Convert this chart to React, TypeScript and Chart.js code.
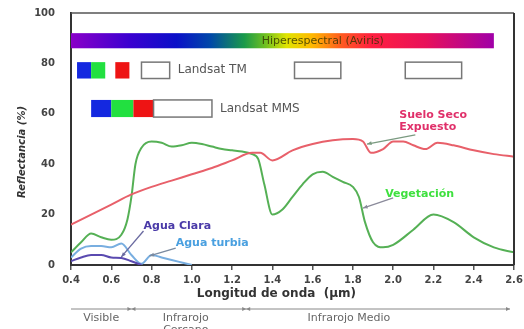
import React, { useEffect, useRef } from "react";
import { Chart, registerables } from "chart.js";
Chart.register(...registerables);

// ---- data ----
const xTicks = [0.4, 0.6, 0.8, 1.0, 1.2, 1.4, 1.6, 1.8, 2.0, 2.2, 2.4, 2.6];
const yTicks = [0, 20, 40, 60, 80, 100];

const sueloX = [0.4, 0.5, 0.6, 0.7, 0.8, 0.9, 1.0, 1.1, 1.2, 1.3, 1.34, 1.4, 1.5, 1.6, 1.7, 1.8, 1.85, 1.89, 1.95, 2.0, 2.05, 2.1, 2.16, 2.22, 2.3, 2.4, 2.5, 2.6];
const sueloY = [16, 20, 24, 28, 31, 33.5, 36, 38.5, 41.5, 44.5, 44.5, 41.5, 45.5, 48, 49.5, 50, 49, 44.5, 46, 49, 49, 47.5, 46, 48.5, 47.5, 45.5, 44, 43];

const vegX = [0.4, 0.45, 0.5, 0.55, 0.6, 0.65, 0.68, 0.7, 0.72, 0.75, 0.8, 0.85, 0.9, 0.95, 1.0, 1.05, 1.1, 1.15, 1.2, 1.25, 1.3, 1.33, 1.36, 1.4, 1.45, 1.5, 1.55, 1.6, 1.65, 1.7, 1.75, 1.8, 1.83, 1.86, 1.9, 1.95, 2.0, 2.1, 2.2, 2.3, 2.4, 2.5, 2.6];
const vegY = [5, 9, 12.5, 11, 10, 12, 18, 27, 40, 46.5, 49, 48.5, 47, 47.5, 48.5, 48, 47, 46, 45.5, 45, 44, 42, 32, 20, 22, 27, 32, 36, 37, 35, 33, 31, 27, 17, 9, 7, 8, 14, 20, 17, 11, 7, 5];

const claraX = [0.4, 0.45, 0.5, 0.55, 0.6, 0.65, 0.7, 0.75];
const claraY = [1.5, 3, 4, 4, 3, 2.8, 1.5, 0];

const turbiaX = [0.4, 0.45, 0.5, 0.55, 0.6, 0.65, 0.7, 0.75, 0.8, 0.85, 0.9, 0.95, 1.0];
const turbiaY = [3, 6.5, 7.5, 7.5, 7, 8.5, 4, 0.5, 4, 3, 2, 1, 0];

// sensor bands (wavelength ranges, µm)
const tmBands = [[0.43, 0.5], [0.5, 0.57], [0.62, 0.69], [0.75, 0.89], [1.51, 1.74], [2.06, 2.34]];
const mmsBands = [[0.5, 0.6], [0.6, 0.71], [0.71, 0.81], [0.81, 1.1]];
const bandFill = ["#1428e0", "#22e040", "#ee1414", "#ffffff", "#ffffff", "#ffffff"];
const aviris = [0.4, 2.5];

// spectral regions
const regionBounds = [0.4, 0.7, 1.27, 2.58];
const regionNames = [["Visible"], ["Infrarojo", "Cercano"], ["Infrarojo Medio"]];
const regionCenters = [0.55, 0.97, 1.78];

const FONT = "'DejaVu Sans', Verdana, sans-serif";

function arrow(ctx: CanvasRenderingContext2D, x0: number, y0: number, x1: number, y1: number, color: string) {
  ctx.save();
  ctx.strokeStyle = color;
  ctx.fillStyle = color;
  ctx.lineWidth = 1.3;
  ctx.beginPath();
  ctx.moveTo(x0, y0);
  ctx.lineTo(x1, y1);
  ctx.stroke();
  const a = Math.atan2(y1 - y0, x1 - x0);
  const L = 5;
  ctx.beginPath();
  ctx.moveTo(x1, y1);
  ctx.lineTo(x1 - L * Math.cos(a - 0.4), y1 - L * Math.sin(a - 0.4));
  ctx.lineTo(x1 - L * Math.cos(a + 0.4), y1 - L * Math.sin(a + 0.4));
  ctx.closePath();
  ctx.fill();
  ctx.restore();
}

const decor = {
  id: "decor",
  beforeDatasetsDraw(chart: any) {
    const { ctx, scales } = chart;
    const x = scales.x, y = scales.y;
    ctx.save();
    // Aviris hyperspectral bar
    const x0 = x.getPixelForValue(aviris[0]);
    const x1 = x.getPixelForValue(aviris[1]);
    const yt = y.getPixelForValue(92);
    const yb = y.getPixelForValue(86);
    const g = ctx.createLinearGradient(x0, 0, x1, 0);
    const stops: [number, string][] = [
      [0, "#8a00c8"], [0.14, "#3a00d0"], [0.25, "#0a10c8"], [0.33, "#0048a8"],
      [0.41, "#1a9a4a"], [0.46, "#70c020"], [0.51, "#e0e400"], [0.57, "#ffb800"],
      [0.64, "#ff5a20"], [0.71, "#ff2040"], [0.84, "#e8105a"], [1, "#a000a8"],
    ];
    stops.forEach(([o, c]) => g.addColorStop(o, c));
    ctx.fillStyle = g;
    ctx.fillRect(x0, yt, x1 - x0, yb - yt);
    ctx.fillStyle = "rgba(50,50,0,0.8)";
    ctx.font = `11px ${FONT}`;
    ctx.textAlign = "center";
    ctx.textBaseline = "middle";
    ctx.fillText("Hiperespectral (Aviris)", x.getPixelForValue(1.65), (yt + yb) / 2);

    const drawBands = (bands: number[][], top: number, bot: number) => {
      const t = y.getPixelForValue(top), b = y.getPixelForValue(bot);
      bands.forEach((bd, i) => {
        const l = x.getPixelForValue(bd[0]), r = x.getPixelForValue(bd[1]);
        ctx.fillStyle = bandFill[i];
        ctx.fillRect(l, t, r - l, b - t);
        if (bandFill[i] === "#ffffff") {
          ctx.strokeStyle = "#777";
          ctx.lineWidth = 1.5;
          ctx.strokeRect(l, t, r - l, b - t);
        }
      });
      return (t + b) / 2;
    };
    const tmMid = drawBands(tmBands, 80.5, 74);
    const mmsMid = drawBands(mmsBands, 65.5, 58.7);
    ctx.fillStyle = "#555";
    ctx.font = `12px ${FONT}`;
    ctx.textAlign = "left";
    ctx.fillText("Landsat TM", x.getPixelForValue(0.93), tmMid);
    ctx.fillText("Landsat MMS", x.getPixelForValue(1.14), mmsMid);
    ctx.restore();
  },
  afterDatasetsDraw(chart: any) {
    const { ctx, scales } = chart;
    const x = scales.x, y = scales.y;
    const P = (a: number, b: number) => [x.getPixelForValue(a), y.getPixelForValue(b)];
    ctx.save();
    let s = P(2.11, 51.6), e = P(1.87, 48);
    arrow(ctx, s[0], s[1], e[0], e[1], "#7a9a80");
    s = P(2.0, 26.6); e = P(1.85, 22.6);
    arrow(ctx, s[0], s[1], e[0], e[1], "#8a8a9a");
    s = P(0.76, 13.5); e = P(0.65, 3.2);
    arrow(ctx, s[0], s[1], e[0], e[1], "#6a6aa0");
    s = P(0.92, 6.7); e = P(0.79, 3.6);
    arrow(ctx, s[0], s[1], e[0], e[1], "#7a8aa0");

    ctx.textAlign = "left";
    ctx.textBaseline = "middle";
    ctx.font = `bold 11px ${FONT}`;
    ctx.fillStyle = "#e0306a";
    let p = P(2.03, 59.5);
    ctx.fillText("Suelo Seco", p[0], p[1]);
    p = P(2.03, 54.8);
    ctx.fillText("Expuesto", p[0], p[1]);
    ctx.fillStyle = "#3ee03e";
    p = P(1.96, 28.2);
    ctx.fillText("Vegetación", p[0], p[1]);
    ctx.fillStyle = "#4a3aa8";
    p = P(0.76, 15.5);
    ctx.fillText("Agua Clara", p[0], p[1]);
    ctx.fillStyle = "#4aa0e0";
    p = P(0.92, 8.7);
    ctx.fillText("Agua turbia", p[0], p[1]);
    ctx.restore();
  },
  afterDraw(chart: any) {
    const { ctx, chartArea, scales } = chart;
    const x = scales.x;
    ctx.save();
    // frame top/right
    ctx.strokeStyle = "#555";
    ctx.lineWidth = 1.5;
    ctx.beginPath();
    ctx.moveTo(chartArea.left, chartArea.top);
    ctx.lineTo(chartArea.right, chartArea.top);
    ctx.stroke();
    ctx.strokeStyle = "#333";
    ctx.lineWidth = 2;
    ctx.beginPath();
    ctx.moveTo(chartArea.right, chartArea.top);
    ctx.lineTo(chartArea.right, chartArea.bottom);
    ctx.stroke();

    // axis titles
    ctx.fillStyle = "#333";
    ctx.font = `bold 12px ${FONT}`;
    ctx.textAlign = "center";
    ctx.textBaseline = "middle";
    ctx.fillText("Longitud de onda  (µm)", x.getPixelForValue(1.42), chartArea.bottom + 29);
    ctx.save();
    ctx.translate(22, 152);
    ctx.rotate(-Math.PI / 2);
    ctx.font = `italic bold 10px ${FONT}`;
    ctx.fillText("Reflectancia (%)", 0, 0);
    ctx.restore();

    // spectral regions
    const ly = chartArea.bottom + 44;
    ctx.strokeStyle = "#888";
    ctx.lineWidth = 1;
    ctx.beginPath();
    ctx.moveTo(x.getPixelForValue(regionBounds[0]), ly);
    ctx.lineTo(x.getPixelForValue(regionBounds[regionBounds.length - 1]), ly);
    ctx.stroke();
    ctx.fillStyle = "#888";
    for (let i = 1; i < regionBounds.length; i++) {
      const bx = x.getPixelForValue(regionBounds[i]);
      ctx.beginPath();
      ctx.moveTo(bx, ly);
      ctx.lineTo(bx - 4, ly - 2);
      ctx.lineTo(bx - 4, ly + 2);
      ctx.closePath();
      ctx.fill();
      if (i < regionBounds.length - 1) {
        ctx.beginPath();
        ctx.moveTo(bx, ly);
        ctx.lineTo(bx + 4, ly - 2);
        ctx.lineTo(bx + 4, ly + 2);
        ctx.closePath();
        ctx.fill();
      }
    }
    ctx.fillStyle = "#666";
    ctx.font = `11px ${FONT}`;
    regionNames.forEach((lines, i) => {
      lines.forEach((t, j) => {
        ctx.fillText(t, x.getPixelForValue(regionCenters[i]), ly + 9 + j * 12);
      });
    });
    ctx.restore();
  },
};

function mk(xs: number[], ys: number[]) {
  return xs.map((v, i) => ({ x: v, y: ys[i] }));
}

export default function App() {
  const ref = useRef<HTMLCanvasElement>(null);
  useEffect(() => {
    const canvas = ref.current!;
    const line = (label: string, data: any, color: string) => ({
      label,
      data,
      borderColor: color,
      backgroundColor: color,
      borderWidth: 2,
      pointRadius: 0,
      cubicInterpolationMode: "monotone" as const,
      fill: false,
    });
    const chart = new Chart(canvas, {
      type: "line",
      data: {
        datasets: [
          line("Suelo Seco Expuesto", mk(sueloX, sueloY), "#e8606a"),
          line("Vegetación", mk(vegX, vegY), "#55b055"),
          line("Agua Clara", mk(claraX, claraY), "#5a4ab0"),
          line("Agua turbia", mk(turbiaX, turbiaY), "#78aee0"),
        ],
      },
      options: {
        animation: false,
        responsive: false,
        events: [],
        layout: { padding: { top: 13, right: 10, left: 0, bottom: 0 } },
        plugins: { legend: { display: false }, tooltip: { enabled: false } },
        scales: {
          x: {
            type: "linear",
            min: 0.4,
            max: 2.6,
            afterBuildTicks: (s: any) => { s.ticks = xTicks.map((v) => ({ value: v })); },
            afterFit: (s: any) => { s.height = 64; s.paddingLeft = 0; s.paddingRight = 0; },
            ticks: {
              callback: (v: any) => Number(v).toFixed(1),
              font: { family: FONT, size: 10, weight: "bold" },
              color: "#444",
              padding: 4,
              maxRotation: 0,
              autoSkip: false,
            },
            grid: { display: true, drawOnChartArea: false, drawTicks: true, tickLength: 5, color: "#555", lineWidth: 1.5 },
            border: { display: true, color: "#333", width: 2 },
          },
          y: {
            min: 0,
            max: 100,
            afterBuildTicks: (s: any) => { s.ticks = yTicks.map((v) => ({ value: v })); },
            afterFit: (s: any) => { s.width = 71; s.paddingTop = 0; s.paddingBottom = 0; },
            ticks: {
              font: { family: FONT, size: 10, weight: "bold" },
              color: "#444",
              padding: 8,
            },
            grid: { display: false },
            border: { display: true, color: "#333", width: 2 },
          },
        },
      },
      plugins: [decor],
    } as any);
    return () => chart.destroy();
  }, []);
  return (
    <div style={{ position: "absolute", left: 0, top: 0, width: 524, height: 329, background: "#fff" }}>
      <canvas ref={ref} width={524} height={329} />
    </div>
  );
}
